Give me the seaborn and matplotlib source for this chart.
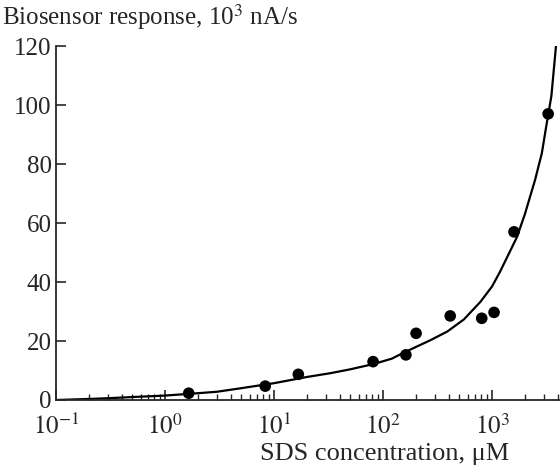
import numpy as np
import pandas as pd
import seaborn as sns
import matplotlib.pyplot as plt
from matplotlib.ticker import LogLocator, NullFormatter

# measured points
sds_conc = [1.65, 8.3, 16.7, 81, 162, 201, 413, 804, 1043, 1590, 3270]
response = [2.3, 4.7, 8.7, 13.0, 15.3, 22.6, 28.5, 27.7, 29.7, 57.0, 97.0]

# fitted curve
curve_conc = [0.1, 0.2, 0.3, 0.5, 1, 2, 3, 5, 10, 20, 33, 50, 82, 120, 160, 273, 388, 551,
              783, 1000, 1184, 1400, 1695, 2000, 2480, 2860, 3210, 3500, 3865, 4000]
curve_resp = [0.0, 0.35, 0.6, 1.0, 1.5, 2.3, 2.8, 4.0, 5.7, 7.8, 9.1, 10.4, 12.2, 14.0, 16.3,
              20.3, 23.2, 27.3, 33.3, 38.5, 43.5, 49.0, 55.3, 63.0, 74.6, 83.6, 94.9, 103.0, 120.3, 127.0]

pts = pd.DataFrame({'conc': sds_conc, 'resp': response})
fit = pd.DataFrame({'conc': curve_conc, 'resp': curve_resp})

sns.set_style('ticks')
plt.rcParams['font.family'] = ['Liberation Serif', 'DejaVu Serif']
plt.rcParams['mathtext.fontset'] = 'stix'
plt.rcParams['font.size'] = 18

fig = plt.figure(figsize=(5.6, 4.68), dpi=100)
ax = fig.add_axes([0.1, 0.1453, 0.9, 0.7564])

sns.lineplot(data=fit, x='conc', y='resp', color='black', lw=1.6, ax=ax)
sns.scatterplot(data=pts, x='conc', y='resp', color='black', s=70, edgecolor='none', ax=ax, zorder=3)

ax.set_xscale('log')
ax.set_xlim(0.1, 4200)
ax.set_ylim(0, 120)
ax.set_yticks([0, 20, 40, 60, 80, 100, 120])
ax.set_xticks([0.1, 1, 10, 100, 1000])
ax.set_xticklabels(['$10^{-1}$', '$10^{0}$', '$10^{1}$', '$10^{2}$', '$10^{3}$'])
ax.xaxis.set_minor_locator(LogLocator(base=10, subs=np.arange(2, 10), numticks=20))
ax.xaxis.set_minor_formatter(NullFormatter())

ax.tick_params(axis='both', which='major', direction='in', length=7, width=1.2, labelsize=18)
ax.tick_params(axis='x', which='minor', direction='in', length=4, width=1.0)
ax.tick_params(axis='x', which='major', pad=10)
ax.tick_params(axis='y', pad=3)

sns.despine(ax=ax)
ax.spines['left'].set_linewidth(1.3)
ax.spines['bottom'].set_linewidth(1.3)
ax.set_xlabel('')
ax.set_ylabel('')

fig.text(0.003, 0.995, 'Biosensor response, 10$^3$ nA/s', ha='left', va='top', fontsize=18)
fig.text(0.91, 0.03, 'SDS concentration, μM', ha='right', va='center', fontsize=19)

fig.savefig('out.png', dpi=100)
